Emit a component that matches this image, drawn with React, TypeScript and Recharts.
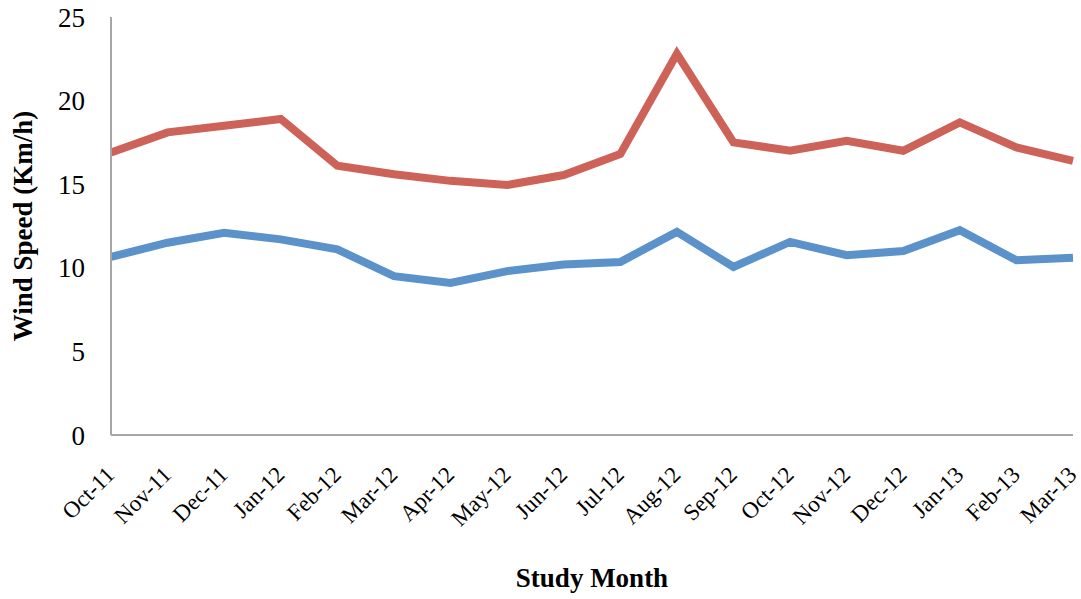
import { LineChart, Line, XAxis, YAxis, Label } from "recharts";

const months = [
  "Oct-11", "Nov-11", "Dec-11", "Jan-12", "Feb-12", "Mar-12",
  "Apr-12", "May-12", "Jun-12", "Jul-12", "Aug-12", "Sep-12",
  "Oct-12", "Nov-12", "Dec-12", "Jan-13", "Feb-13", "Mar-13",
];

// upper (red) and lower (blue) wind speed series, km/h
const maxSpeed = [
  16.9, 18.1, 18.5, 18.9, 16.1, 15.6, 15.2, 14.95, 15.55,
  16.8, 22.8, 17.5, 17.0, 17.6, 17.0, 18.7, 17.2, 16.4,
];
const meanSpeed = [
  10.65, 11.5, 12.1, 11.7, 11.1, 9.5, 9.1, 9.8, 10.2,
  10.35, 12.15, 10.05, 11.55, 10.75, 11.0, 12.25, 10.45, 10.6,
];

const yTicks = [0, 5, 10, 15, 20, 25];

const data = months.map((m, i) => ({
  month: m,
  max: maxSpeed[i],
  mean: meanSpeed[i],
}));

const FONT = "'Liberation Serif', 'DejaVu Serif', serif";

function MonthTick(props: any) {
  const { x, y, payload } = props;
  return (
    <g transform={`translate(${x + 5},${y + 39})`}>
      <text
        x={0}
        y={0}
        textAnchor="end"
        transform="rotate(-45)"
        fontFamily={FONT}
        fontSize={23}
        fill="#000"
      >
        {payload.value}
      </text>
    </g>
  );
}

export default function App() {
  return (
    <div style={{ position: "absolute", left: 0, top: 0, background: "#fff" }}>
      <LineChart
        width={1081}
        height={599}
        data={data}
        margin={{ top: 17, right: 8, bottom: 0, left: 0 }}
      >
        <XAxis
          dataKey="month"
          interval={0}
          height={164}
          tick={<MonthTick />}
          tickLine={false}
          tickSize={0}
          axisLine={{ stroke: "#A6A6A6", strokeWidth: 2 }}
          padding={{ left: 0, right: 0 }}
        >
          <Label
            value="Study Month"
            position="insideBottom"
            offset={12}
            style={{
              fontFamily: FONT,
              fontSize: 27,
              fontWeight: "bold",
              fill: "#000",
            }}
          />
        </XAxis>
        <YAxis
          domain={[0, 25]}
          ticks={yTicks}
          width={111}
          tickLine={false}
          tickSize={0}
          tickMargin={26}
          axisLine={{ stroke: "#A6A6A6", strokeWidth: 2 }}
          tick={{ fontFamily: FONT, fontSize: 27, fill: "#000" }}
        >
          <Label
            value="Wind Speed (Km/h)"
            angle={-90}
            position="insideLeft"
            offset={22}
            style={{
              textAnchor: "middle",
              fontFamily: FONT,
              fontSize: 27,
              fontWeight: "bold",
              fill: "#000",
            }}
          />
        </YAxis>
        <Line
          type="linear"
          dataKey="max"
          stroke="#CD6259"
          strokeWidth={8}
          dot={false}
          activeDot={false}
          isAnimationActive={false}
        />
        <Line
          type="linear"
          dataKey="mean"
          stroke="#5A92C9"
          strokeWidth={8}
          dot={false}
          activeDot={false}
          isAnimationActive={false}
        />
      </LineChart>
    </div>
  );
}
